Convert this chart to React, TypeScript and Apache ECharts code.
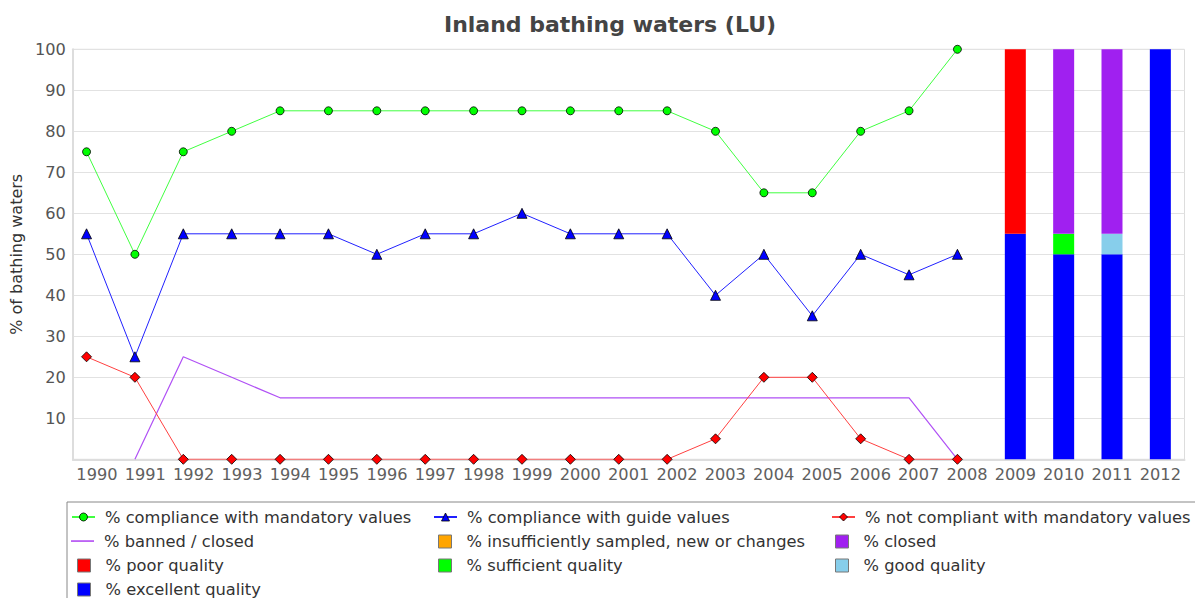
import React, { useEffect, useRef } from "react";
import * as echarts from "echarts";

const years = ["1990","1991","1992","1993","1994","1995","1996","1997","1998","1999","2000","2001","2002","2003","2004","2005","2006","2007","2008","2009","2010","2011","2012"];
const lineYears = years.slice(0, 19);
const mandatory = [75, 50, 75, 80, 85, 85, 85, 85, 85, 85, 85, 85, 85, 80, 65, 65, 80, 85, 100];
const guide = [55, 25, 55, 55, 55, 55, 50, 55, 55, 60, 55, 55, 55, 40, 50, 35, 50, 45, 50];
const notCompliant = [25, 20, 0, 0, 0, 0, 0, 0, 0, 0, 0, 0, 0, 5, 20, 20, 5, 0, 0];
const banned: (number | null)[] = [null, 0, 25, 20, 15, 15, 15, 15, 15, 15, 15, 15, 15, 15, 15, 15, 15, 15, 0];

const barYears = ["2009", "2010", "2011", "2012"];
const excellent = [55, 50, 50, 100];
const good = [null, null, 5, null];
const sufficient = [null, 5, null, null];
const poor = [45, null, null, null];
const closed = [null, 45, 45, null];
const insufficient = [null, null, null, null];

const yTicks = [0, 10, 20, 30, 40, 50, 60, 70, 80, 90, 100];

const FONT = "DejaVu Sans";

function toBar(vals: (number | null)[]) {
  return years.map((y) => {
    const k = barYears.indexOf(y);
    return k >= 0 ? vals[k] : null;
  });
}
function toLine(vals: (number | null)[]) {
  const out: [number, number][] = [];
  lineYears.forEach((_, i) => {
    const v = vals[i];
    if (v !== null && v !== undefined) out.push([i, v]);
  });
  return out;
}

const lineLegend = (name: string, left: number, center: number, icon?: string) => ({
  data: [icon ? { name, icon } : { name, itemStyle: { borderWidth: 0.8 } }],
  left,
  top: center - 6,
  orient: "horizontal",
  padding: 0,
  itemWidth: 23,
  itemHeight: 10,
  textStyle: { fontFamily: FONT, fontSize: 16.3, color: "#333", padding: [0, 0, 0, 5] },
});
const boxLegend = (name: string, left: number, center: number) => ({
  data: [{ name, icon: "rect", itemStyle: { borderColor: "#777", borderWidth: 1 } }],
  left,
  top: center - 5.5,
  orient: "horizontal",
  padding: 0,
  itemWidth: 13,
  itemHeight: 13,
  textStyle: { fontFamily: FONT, fontSize: 16.3, color: "#333", padding: [0, 0, 0, 10] },
});

export default function App() {
  const ref = useRef<HTMLDivElement>(null);
  useEffect(() => {
    if (!ref.current) return;
    const chart = echarts.init(ref.current, undefined, { renderer: "svg" });
    const rows = [515, 539, 563, 587];
    const option: any = {
      animation: false,
      backgroundColor: "#fff",
      title: {
        text: "Inland bathing waters (LU)",
        left: 605,
        textAlign: "center",
        top: 8,
        textStyle: { fontFamily: FONT, fontSize: 22, fontWeight: "bold", color: "#444" },
      },
      graphic: [
        {
          type: "rect",
          shape: { x: 67, y: 502, width: 1140, height: 120 },
          style: { fill: "none", stroke: "#888", lineWidth: 1 },
          silent: true,
        },
      ],
      legend: [
        lineLegend("% compliance with mandatory values", 71, rows[0]),
        lineLegend("% banned / closed", 71, rows[1], "path://M0,0M0,4.4h23v1.3h-23zM23,10"),
        boxLegend("% poor quality", 77, rows[2]),
        boxLegend("% excellent quality", 77, rows[3]),
        lineLegend("% compliance with guide values", 433, rows[0]),
        boxLegend("% insufficiently sampled, new or changes", 438, rows[1]),
        boxLegend("% sufficient quality", 438, rows[2]),
        lineLegend("% not compliant with mandatory values", 831, rows[0]),
        boxLegend("% closed", 835, rows[1]),
        boxLegend("% good quality", 835, rows[2]),
      ],
      grid: {
        left: 66.7,
        right: 10.5,
        top: 49.3,
        bottom: 138.7,
        show: true,
        borderColor: "#ddd",
        borderWidth: 1,
      },
      xAxis: [
        {
          type: "category",
          data: years,
          boundaryGap: true,
          axisLine: { onZero: false, lineStyle: { color: "#ddd", width: 2 } },
          axisTick: { show: false },
          axisLabel: { fontFamily: FONT, fontSize: 16.2, color: "#606060", margin: 7, interval: 0, hideOverlap: false },
          splitLine: { show: false },
        },
        {
          type: "value",
          min: -0.284,
          max: 22.693,
          show: false,
          axisLine: { onZero: false },
          splitLine: { show: false },
        },
      ],
      yAxis: {
        type: "value",
        min: yTicks[0],
        max: yTicks[yTicks.length - 1],
        interval: 10,
        name: "% of bathing waters",
        nameLocation: "middle",
        nameGap: 40,
        nameTextStyle: { fontFamily: FONT, fontSize: 16, color: "#333" },
        axisLine: { show: true, onZero: false, lineStyle: { color: "#ddd", width: 2 } },
        axisTick: { show: false },
        axisLabel: {
          fontFamily: FONT,
          fontSize: 16.2,
          color: "#555",
          margin: 7,
          formatter: (v: number) => (v === 0 ? "" : String(v)),
        },
        splitLine: { lineStyle: { color: "#e2e2e2", width: 1 } },
      },
      series: [
        {
          name: "% excellent quality",
          type: "bar",
          stack: "q",
          barWidth: 21,
          data: toBar(excellent),
          itemStyle: { color: "#0000ff" },
        },
        {
          name: "% good quality",
          type: "bar",
          stack: "q",
          barWidth: 21,
          data: toBar(good),
          itemStyle: { color: "#87ceeb" },
        },
        {
          name: "% sufficient quality",
          type: "bar",
          stack: "q",
          barWidth: 21,
          data: toBar(sufficient),
          itemStyle: { color: "#00ff00" },
        },
        {
          name: "% poor quality",
          type: "bar",
          stack: "q",
          barWidth: 21,
          data: toBar(poor),
          itemStyle: { color: "#ff0000" },
        },
        {
          name: "% closed",
          type: "bar",
          stack: "q",
          barWidth: 21,
          data: toBar(closed),
          itemStyle: { color: "#a020f0" },
        },
        {
          name: "% insufficiently sampled, new or changes",
          type: "bar",
          stack: "q",
          barWidth: 21,
          data: toBar(insufficient),
          itemStyle: { color: "#ffa500" },
        },
        {
          name: "% banned / closed",
          type: "line",
          xAxisIndex: 1,
          data: toLine(banned),
          symbol: "none",
          lineStyle: { color: "#b050f5", width: 1.2 },
          itemStyle: { color: "#a020f0" },
        },
        {
          name: "% not compliant with mandatory values",
          type: "line",
          xAxisIndex: 1,
          data: toLine(notCompliant),
          symbol: "diamond",
          symbolSize: 10,
          lineStyle: { color: "#ff4040", width: 1 },
          itemStyle: { color: "#ff0000", borderColor: "#000", borderWidth: 0.8 },
        },
        {
          name: "% compliance with guide values",
          type: "line",
          xAxisIndex: 1,
          data: toLine(guide),
          symbol: "triangle",
          symbolSize: 10,
          lineStyle: { color: "#2020ff", width: 1 },
          itemStyle: { color: "#0000ff", borderColor: "#000", borderWidth: 0.8 },
        },
        {
          name: "% compliance with mandatory values",
          type: "line",
          xAxisIndex: 1,
          data: toLine(mandatory),
          symbol: "circle",
          symbolSize: 8,
          lineStyle: { color: "#40ff40", width: 1 },
          itemStyle: { color: "#00ff00", borderColor: "#000", borderWidth: 0.8 },
        },
      ],
    };
    chart.setOption(option);
    return () => chart.dispose();
  }, []);
  return (
    <div
      ref={ref}
      style={{ position: "absolute", left: 0, top: 0, width: 1195, height: 598 }}
    />
  );
}
